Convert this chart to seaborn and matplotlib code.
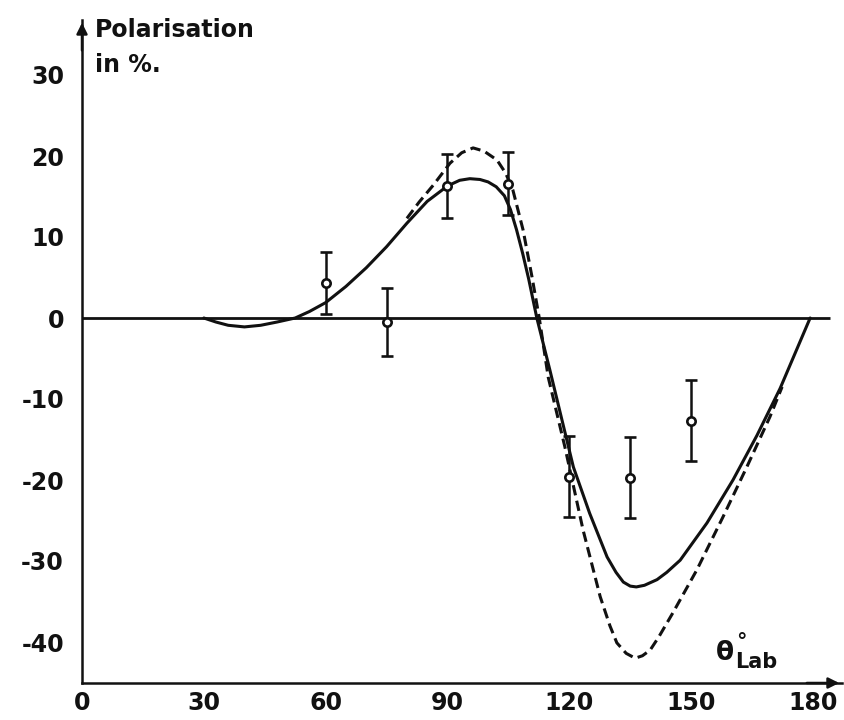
import numpy as np
import pandas as pd
import matplotlib
matplotlib.use("Agg")
import matplotlib.pyplot as plt
import seaborn as sns

# ---- data ----
theta_pts = [60, 75, 90, 105, 120, 135, 150]
pol_pts = [4.3, -0.5, 16.3, 16.6, -19.6, -19.7, -12.7]
err_pts = [3.8, 4.2, 4.0, 3.9, 5.0, 5.0, 5.0]

theta_solid = [30, 33, 36, 40, 44, 48, 52.5, 56, 60, 65, 70, 75, 80, 85, 90, 93, 95.5,
               98, 100, 102, 104, 105.5, 107, 108.5, 110, 112, 115.2, 118, 121, 125,
               129.3, 131.5, 133.3, 135, 136.5, 138.5, 141.6, 144, 147.3, 153.9, 160.3,
               166.2, 171.9, 179.3]
pol_solid = [0, -0.5, -0.9, -1.1, -0.9, -0.5, 0, 0.8, 1.9, 3.9, 6.2, 8.8, 11.7, 14.4,
             16.3, 17.0, 17.2, 17.1, 16.8, 16.2, 15.1, 13.4, 10.9, 8.0, 4.8, 0, -6.4,
             -12.2, -18.4, -24.1, -29.5, -31.4, -32.6, -33.1, -33.2, -33.0, -32.3,
             -31.4, -29.9, -25.3, -20.0, -14.5, -8.7, 0]

theta_dash = [80, 83, 86.5, 90.6, 93.5, 96.3, 99, 102.2, 104.3, 106.1, 108.6, 110.8,
              112.6, 114.8, 118.9, 123.4, 127.6, 130, 131.7, 134, 136.2, 138, 139.9,
              142, 145.5, 151.4, 157.8, 163.7, 169.4, 172.4]
pol_dash = [12.3, 14.3, 16.4, 19.1, 20.4, 21.0, 20.6, 19.5, 17.9, 15.8, 10.9, 5.1, 0,
            -7.3, -15.9, -26.2, -34.4, -38.0, -40.1, -41.4, -42.0, -41.7, -41.0,
            -39.4, -36.4, -31.1, -24.6, -18.4, -12.2, -8.5]

xticks = [0, 30, 60, 90, 120, 150, 180]
yticks = [-40, -30, -20, -10, 0, 10, 20, 30]
yticklabels = ["-40", "-30", "-20", "-10", "0", "10", "20", "30"]

# ---- style ----
sns.set_style("white")
plt.rcParams["font.family"] = ["DejaVu Sans"]
INK = "#111111"

W, H = 844, 720
fig = plt.figure(figsize=(W / 100, H / 100), dpi=100)
ax = fig.add_axes([82 / W, 37 / H, 760 / W, 663 / H])

df = pd.concat([
    pd.DataFrame({"theta": theta_solid, "P": pol_solid, "curve": "solid"}),
    pd.DataFrame({"theta": theta_dash, "P": pol_dash, "curve": "dashed"}),
])
sns.lineplot(data=df, x="theta", y="P", style="curve", units="curve",
             estimator=None, sort=False, color=INK, lw=2.2,
             dashes={"solid": "", "dashed": (3.4, 1.8)}, legend=False, ax=ax)
for ln in ax.get_lines():
    ln.set_solid_joinstyle("round")
    ln.set_dash_capstyle("butt")

# zero line
ax.hlines(0, 0, 184.2, color=INK, lw=2.0, zorder=1)

# data points with error bars
ax.errorbar(theta_pts, pol_pts, yerr=err_pts, fmt="o", ms=6, mfc="white",
            mec=INK, mew=1.9, ecolor=INK, elinewidth=1.8, capsize=4.5,
            capthick=1.8, zorder=5)

ax.set_xlim(0, 760 / 4.061)
ax.set_ylim(-365 / 8.1, 298 / 8.1)
ax.set_xticks(xticks)
ax.set_xticklabels([str(t) for t in xticks])
ax.set_yticks(yticks)
ax.set_yticklabels(yticklabels)
ax.set_xlabel("")
ax.set_ylabel("")

for s in ["top", "right"]:
    ax.spines[s].set_visible(False)
for s in ["left", "bottom"]:
    ax.spines[s].set_linewidth(1.8)
    ax.spines[s].set_color(INK)

ax.tick_params(axis="x", direction="out", length=4, width=1.8, color=INK,
               pad=2, labelsize=17, labelcolor=INK)
ax.tick_params(axis="y", direction="out", length=3, width=1.8, color=INK,
               pad=10, labelsize=17, labelcolor=INK)
for lab in ax.get_xticklabels() + ax.get_yticklabels():
    lab.set_fontweight("bold")

# axis arrows
ax.annotate("", xy=(0, 1), xytext=(0, 0.95), xycoords="axes fraction",
            arrowprops=dict(arrowstyle="-|>", color=INK, lw=1.8, mutation_scale=16))
ax.annotate("", xy=(1, 0), xytext=(0.95, 0), xycoords="axes fraction",
            arrowprops=dict(arrowstyle="-|>", color=INK, lw=1.8, mutation_scale=16))

# labels
def ftxt(px, py, s, **kw):
    fig.text(px / W, 1 - py / H, s, color=INK, fontweight="bold", **kw)

ftxt(95, 37, "Polarisation", fontsize=17, va="baseline", ha="left")
ftxt(95, 72, "in %.", fontsize=17, va="baseline", ha="left")
ftxt(716, 660, "θ", fontsize=19, va="baseline", ha="left")
ftxt(736, 648, "°", fontsize=15, va="baseline", ha="left")
ftxt(735, 668, "Lab", fontsize=15, va="baseline", ha="left")

fig.savefig("out.png", dpi=100, facecolor="white")
